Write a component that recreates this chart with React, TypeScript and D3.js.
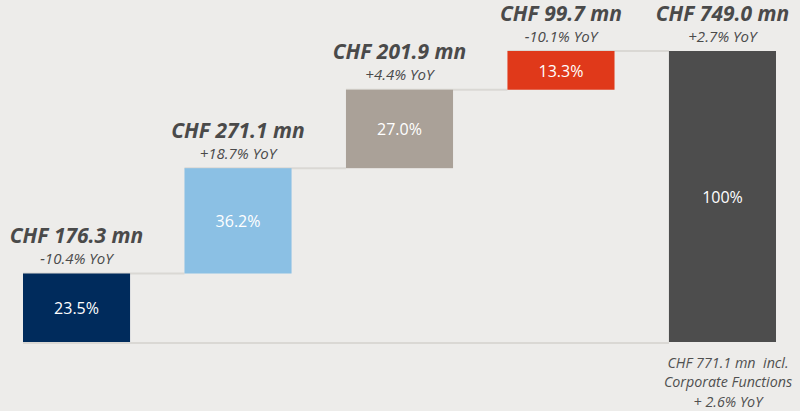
import React, { useEffect } from "react";
import * as d3 from "d3";

const categories = ["Seg1", "Seg2", "Seg3", "Seg4", "Total"];
const values = [176.3, 271.1, 201.9, 99.7, 749.0];
const shares = ["23.5%", "36.2%", "27.0%", "13.3%", "100%"];
const amountLabels = ["CHF 176.3 mn", "CHF 271.1 mn", "CHF 201.9 mn", "CHF 99.7 mn", "CHF 749.0 mn"];
const yoyLabels = ["-10.4% YoY", "+18.7% YoY", "+4.4% YoY", "-10.1% YoY", "+2.7% YoY"];
const colors = ["#002b5c", "#8bc0e4", "#aaa198", "#e0391a", "#4d4d4d"];
const noteLines = ["CHF 771.1 mn\u00a0\u00a0incl.", "Corporate Functions", "+ 2.6% YoY"];

const W = 800;
const H = 411;
const BG = "#edecea";
const FONT = "'Open Sans', sans-serif";

export default function App() {
  useEffect(() => {
    document.body.style.margin = "0";
    document.body.style.background = BG;
  }, []);

  const x = d3.scaleBand<string>().domain(categories).range([23, 776]).paddingInner(0.337).paddingOuter(0);
  const y = d3.scaleLinear().domain([0, 749]).range([342, 51]);

  let acc = 0;
  const segs = values.map((v, i) => {
    if (i === values.length - 1) return { start: 0, end: v };
    const s = { start: acc, end: acc + v };
    acc += v;
    return s;
  });

  const bw = x.bandwidth();
  const totalX = x(categories[categories.length - 1])!;

  return (
    <svg width={W} height={H} style={{ display: "block", background: BG }}>
      <rect x={0} y={0} width={W} height={H} fill={BG} />
      <line x1={x(categories[0])!} x2={totalX} y1={y(0) + 1} y2={y(0) + 1} stroke="#dad8d4" strokeWidth={2} />
      {segs.slice(0, -1).map((s, i) => (
        <line
          key={"c" + i}
          x1={x(categories[i])!}
          x2={x(categories[i + 1])!}
          y1={y(s.end)}
          y2={y(s.end)}
          stroke="#dad8d4"
          strokeWidth={2}
        />
      ))}
      {segs.map((s, i) => {
        const bx = x(categories[i])!;
        const top = y(s.end);
        const bot = y(s.start);
        const cx = bx + bw / 2;
        return (
          <g key={"b" + i}>
            <rect x={bx} y={top} width={bw} height={bot - top} fill={colors[i]} />
            <text
              x={cx}
              y={(top + bot) / 2 + 6.5}
              textAnchor="middle"
              fill="#ffffff"
              fontFamily={FONT}
              fontSize={16}
            >
              {shares[i]}
            </text>
            <text
              x={cx}
              y={top - 30.5}
              textAnchor="middle"
              fill="#4a4a4a"
              fontFamily={FONT}
              fontSize={21}
              fontWeight="bold"
              fontStyle="italic"
            >
              {amountLabels[i]}
            </text>
            <text
              x={cx}
              y={top - 9.5}
              textAnchor="middle"
              fill="#4a4a4a"
              fontFamily={FONT}
              fontSize={15}
              fontStyle="italic"
            >
              {yoyLabels[i]}
            </text>
          </g>
        );
      })}
      {noteLines.map((t, i) => (
        <text
          key={"n" + i}
          x={728}
          y={367.5 + i * 19.6}
          textAnchor="middle"
          fill="#505050"
          fontFamily={FONT}
          fontSize={14.3}
          fontStyle="italic"
        >
          {t}
        </text>
      ))}
    </svg>
  );
}
